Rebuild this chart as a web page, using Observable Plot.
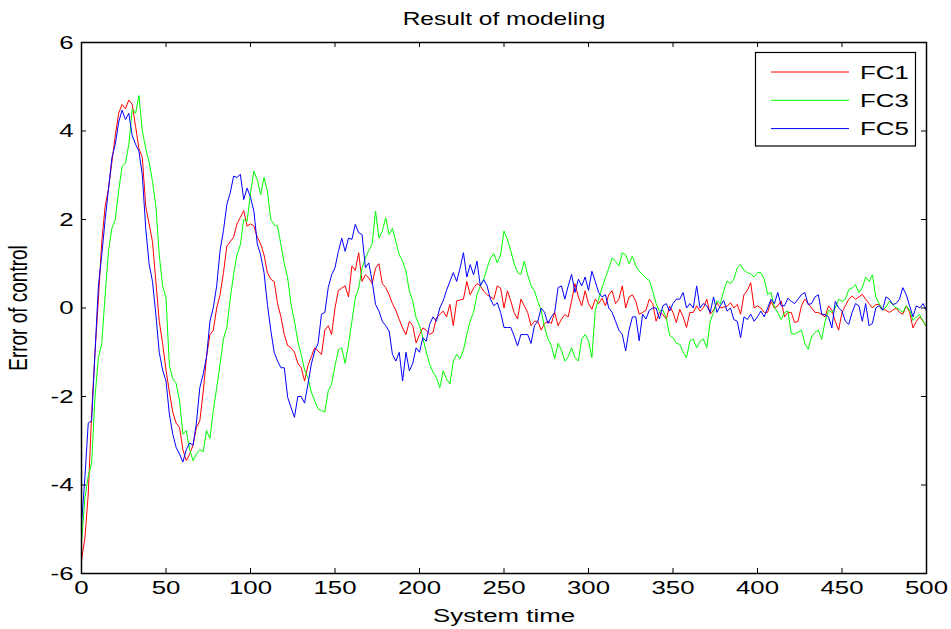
<!DOCTYPE html>
<html>
<head>
<meta charset="utf-8">
<script src="https://cdn.jsdelivr.net/npm/d3@7"></script>
<script src="https://cdn.jsdelivr.net/npm/@observablehq/plot@0.6"></script>
<style>
  html, body { margin: 0; padding: 0; background: #fff; }
  #chart svg { display: block; }
</style>
</head>
<body>
<div id="chart"></div>
<script>
const timeStep = 2;
const seriesNames = ["FC1", "FC3", "FC5"];
const seriesColors = ["#ff0000", "#00ff00", "#0000ff"];
const xTicks = [0, 50, 100, 150, 200, 250, 300, 350, 400, 450, 500];
const yTicks = [-6, -4, -2, 0, 2, 4, 6];
const titleText = "Result of modeling";
const xLabel = "System time";
const yLabel = "Error of control";

const fc1 = [
  -5.7,-5.2,-4.2,-2.4,-1.0,0.2,1.5,2.3,2.7,3.3,3.9,4.4,4.6,4.5,4.7,4.6,4.1,3.6,3.4,2.3,
  1.9,1.5,0.6,-0.3,-0.8,-1.4,-1.9,-2.35,-2.6,-2.7,-3.2,-3.45,-3.3,-3.1,-2.7,-2.55,-1.9,-1.1,-0.6,-0.5,
  0.0,0.3,0.8,1.4,1.5,1.6,1.9,2.05,2.2,1.85,1.9,1.85,1.6,1.45,1.2,0.8,0.65,0.6,0.1,-0.2,
  -0.6,-0.85,-0.9,-1.0,-1.25,-1.35,-1.65,-1.3,-1.1,-0.9,-0.97,-1.05,-0.5,-0.4,-0.6,0.0,0.4,0.45,0.5,0.25,
  0.95,0.85,1.25,0.6,0.75,0.68,0.55,0.9,1.0,0.55,0.46,0.3,0.1,-0.05,-0.26,-0.45,-0.6,-0.3,-0.4,-0.79,
  -0.6,-0.45,-0.5,-0.6,-0.55,-0.22,-0.15,-0.07,-0.2,0.08,-0.4,0.16,0.18,0.2,0.6,0.3,0.45,0.55,0.5,0.38,
  0.3,0.25,0.2,0.5,0.45,0.0,0.39,0.16,-0.1,-0.25,0.2,0.05,-0.1,-0.4,-0.3,-0.3,-0.5,-0.35,-0.3,-0.35,
  -0.1,-0.4,-0.25,-0.15,-0.2,0.16,0.55,0.25,0.05,0.39,0.1,-0.03,0.2,0.1,0.22,0.05,0.3,0.39,0.1,0.2,
  0.5,0.0,0.25,0.3,0.15,-0.14,-0.1,-0.05,0.2,0.1,-0.3,-0.1,-0.15,-0.25,0.04,-0.1,-0.33,-0.03,-0.2,-0.44,
  -0.1,-0.1,0.05,-0.07,0.0,0.2,-0.14,-0.05,0.12,0.0,0.02,0.04,0.12,0.0,0.08,-0.14,0.3,0.4,0.57,0.0,
  0.05,0.0,-0.1,-0.1,0.15,0.0,0.05,0.16,-0.2,-0.1,-0.1,-0.33,-0.3,0.05,0.2,0.1,0.0,-0.1,-0.1,-0.15,
  -0.2,0.05,-0.05,-0.3,-0.5,-0.1,0.05,0.2,0.27,0.2,0.25,0.31,0.2,0.1,0.0,0.08,0.08,-0.03,-0.05,-0.1,
  -0.05,0.0,-0.1,-0.14,0.05,-0.1,-0.45,-0.3,-0.2,-0.3,-0.42
];
const fc3 = [
  -5.3,-4.3,-3.8,-3.5,-2.0,-1.12,-0.8,0.3,1.3,1.8,2.0,2.65,3.2,3.27,3.7,4.49,4.4,4.8,4.0,3.6,
  3.3,2.86,2.3,1.2,0.5,0.23,-1.3,-1.6,-1.7,-2.1,-2.85,-2.77,-3.2,-3.45,-3.3,-3.2,-3.25,-2.77,-2.95,-2.32,
  -1.8,-1.27,-0.7,-0.44,0.2,0.76,1.2,1.43,2.0,1.96,2.6,3.09,2.9,2.56,2.95,2.64,2.0,1.88,1.85,1.43,
  1.0,0.68,0.08,-0.3,-0.75,-1.05,-1.4,-1.57,-1.9,-2.1,-2.28,-2.32,-2.35,-1.87,-1.72,-1.3,-0.95,-0.9,-1.25,-0.82,
  -0.3,0.23,0.45,0.9,1.13,1.3,1.45,2.19,1.58,1.74,2.04,1.66,1.8,1.5,1.2,1.06,0.83,0.38,0.16,-0.22,
  -0.4,-0.67,-1.0,-1.27,-1.45,-1.57,-1.8,-1.42,-1.6,-1.72,-1.2,-1.05,-1.15,-0.95,-0.6,-0.29,-0.1,0.3,0.5,0.65,
  0.9,1.13,1.23,1.02,1.2,1.74,1.55,1.3,1.0,0.8,0.76,1.06,0.75,0.5,0.39,0.15,-0.05,-0.44,-0.7,-0.85,
  -1.15,-0.8,-0.95,-1.2,-1.1,-0.9,-1.12,-1.2,-0.7,-0.6,-0.75,-1.12,-0.05,0.2,0.46,0.68,0.9,1.13,1.05,0.95,
  1.25,1.2,1.0,1.17,0.95,0.83,0.76,0.68,0.62,0.38,0.1,-0.07,-0.05,-0.22,-0.62,-0.67,-0.8,-0.82,-1.0,-1.12,
  -0.75,-0.7,-0.9,-0.75,-0.7,-0.9,-0.3,-0.1,0.16,0.1,0.38,0.61,0.55,0.65,0.9,0.98,0.85,0.8,0.77,0.7,
  0.8,0.8,0.65,0.31,0.35,0.01,-0.1,-0.26,-0.1,-0.07,-0.58,-0.59,-0.55,-0.5,-0.8,-0.93,-0.65,-0.55,-0.5,-0.71,
  -0.3,-0.05,-0.1,0.0,0.2,0.15,0.2,0.42,0.45,0.53,0.35,0.45,0.7,0.6,0.75,0.25,0.1,-0.05,0.02,0.15,
  0.08,0.0,-0.03,-0.1,0.05,-0.05,-0.28,-0.2,-0.15,-0.3,-0.42
];
const fc5 = [
  -4.9,-3.83,-2.6,-2.55,-1.0,0.5,1.2,2.0,2.7,3.4,3.7,4.2,4.47,4.26,4.4,3.9,3.7,3.54,3.0,1.8,
  1.0,0.6,-0.15,-1.0,-1.4,-1.65,-2.4,-2.85,-3.15,-3.3,-3.48,-3.2,-3.05,-3.1,-2.6,-1.8,-1.5,-1.1,-0.3,0.01,
  0.5,1.3,1.75,2.34,2.6,2.98,2.95,3.02,2.45,2.71,2.5,2.19,1.45,1.2,0.8,0.08,-0.5,-1.0,-1.2,-1.35,
  -1.35,-2.02,-2.25,-2.47,-2.0,-2.0,-2.15,-1.72,-1.27,-0.97,-0.8,-0.14,-0.1,0.46,0.75,0.91,1.28,1.58,1.28,1.58,
  1.55,1.89,1.7,1.66,0.91,1.02,0.6,0.08,-0.07,-0.3,-0.4,-0.52,-1.05,-1.2,-1.0,-1.65,-1.0,-1.42,-1.25,-0.9,
  -1.0,-0.67,-0.75,-0.37,-0.2,-0.3,0.0,0.16,0.4,0.6,0.8,0.6,0.9,1.25,0.7,0.98,0.75,1.06,0.5,0.64,
  0.5,0.2,0.05,0.12,-0.1,-0.44,-0.44,-0.44,-0.63,-0.86,-0.6,-0.6,-0.6,-0.8,-0.4,-0.3,0.0,-0.1,-0.35,-0.2,
  -0.1,0.46,0.5,0.2,0.5,0.76,0.35,0.65,0.5,0.7,0.4,0.83,0.6,0.35,0.25,0.3,0.0,-0.1,-0.3,-0.5,
  -0.6,-0.97,-0.5,-0.2,-0.2,-0.74,-0.14,-0.25,-0.05,0.0,0.0,-0.25,0.05,0.1,-0.07,0.1,0.2,0.2,0.35,0.0,
  0.1,0.0,0.5,0.0,0.1,0.05,-0.1,0.25,-0.1,0.05,0.17,-0.07,0.0,-0.26,-0.3,-0.67,-0.2,-0.26,-0.14,-0.3,
  -0.2,-0.07,-0.2,0.0,0.2,0.1,0.35,0.05,0.05,0.22,0.15,0.1,0.2,0.3,0.35,0.08,0.1,0.25,0.3,-0.14,
  -0.15,-0.2,-0.45,0.15,0.0,-0.07,-0.3,-0.37,-0.1,0.1,0.05,-0.3,0.1,-0.4,-0.35,0.0,0.05,-0.05,0.25,0.2,
  0.08,0.1,0.2,0.46,0.3,0.05,-0.2,0.05,0.0,0.1,-0.07
];

// ---- build long table ----
const seriesValues = [fc1, fc3, fc5];
const rows = [];
seriesValues.forEach((vals, k) => {
  vals.forEach((v, i) => rows.push({ series: seriesNames[k], time: i * timeStep, value: v }));
});

// ---- layout ----
const W = 951, H = 629;
const mL = 81, mR = 25, mT = 42, mB = 56;
const innerW = W - mL - mR, innerH = H - mT - mB;
const tickLen = 5;
const fontFamily = "'Liberation Sans', Arial, Helvetica, sans-serif";

const chart = Plot.plot({
  width: W,
  height: H,
  marginLeft: mL,
  marginRight: mR,
  marginTop: mT,
  marginBottom: mB,
  style: { fontFamily, fontSize: "19px", background: "#ffffff", color: "#000000", overflow: "visible" },
  x: { domain: [0, 500] },
  y: { domain: [-6, 6] },
  color: { domain: seriesNames, range: seriesColors },
  marks: [
    Plot.line(rows, { x: "time", y: "value", z: "series", stroke: "series", strokeWidth: 1, curve: "linear" }),
    Plot.frame({ stroke: "#000", strokeWidth: 1.5 }),
    Plot.tickX(xTicks, { x: d => d, insetTop: innerH - tickLen, stroke: "#000" }),
    Plot.tickX(xTicks, { x: d => d, insetBottom: innerH - tickLen, stroke: "#000" }),
    Plot.tickY(yTicks, { y: d => d, insetRight: innerW - tickLen, stroke: "#000" }),
    Plot.tickY(yTicks, { y: d => d, insetLeft: innerW - tickLen, stroke: "#000" }),
    Plot.axisX({ ticks: xTicks, tickSize: 0, tickPadding: 7, label: null, fontSize: 19, tickFormat: d => String(d) }),
    Plot.axisY({ ticks: yTicks, tickSize: 0, tickPadding: 8, label: null, fontSize: 19, tickFormat: d => String(d) }),
    Plot.text([titleText], { text: d => d, frameAnchor: "top", dy: -18, lineAnchor: "bottom", fontSize: 18 }),
    Plot.text([xLabel], { text: d => d, frameAnchor: "bottom", dy: 48, lineAnchor: "bottom", fontSize: 19 }),
    Plot.text([yLabel], { text: d => d, frameAnchor: "left", dx: -63, rotate: -90, textAnchor: "middle", lineAnchor: "middle", fontSize: 19 })
  ]
});

document.getElementById("chart").appendChild(chart);

// ---- legend (MATLAB-style box, top right inside the axes) ----
const svg = d3.select(chart);
const legend = svg.append("g").attr("class", "legend")
  .attr("font-family", fontFamily).attr("font-size", 19).attr("text-anchor", "start");
const lgX = 755.5, lgY = 52.5, lgW = 160, lgH = 93.5;
legend.append("rect").attr("x", lgX).attr("y", lgY).attr("width", lgW).attr("height", lgH)
  .attr("fill", "#fff").attr("stroke", "#000").attr("stroke-width", 1.2);
seriesNames.forEach((name, i) => {
  const cy = 72 + i * 28.3;
  legend.append("line").attr("x1", 771).attr("x2", 849).attr("y1", cy).attr("y2", cy)
    .attr("stroke", seriesColors[i]).attr("stroke-width", 1);
  legend.append("text").attr("transform", `translate(860,${cy})`).attr("dy", "0.36em").text(name);
});

// ---- widen horizontal text the way the reference figure is stretched ----
const SX = 1.36;
chart.querySelectorAll("text").forEach(t => {
  const tr = t.getAttribute("transform") || "";
  t.setAttribute("transform", tr.includes("rotate") ? `${tr} scale(1,${SX})` : `${tr} scale(${SX},1)`);
});
</script>
</body>
</html>
